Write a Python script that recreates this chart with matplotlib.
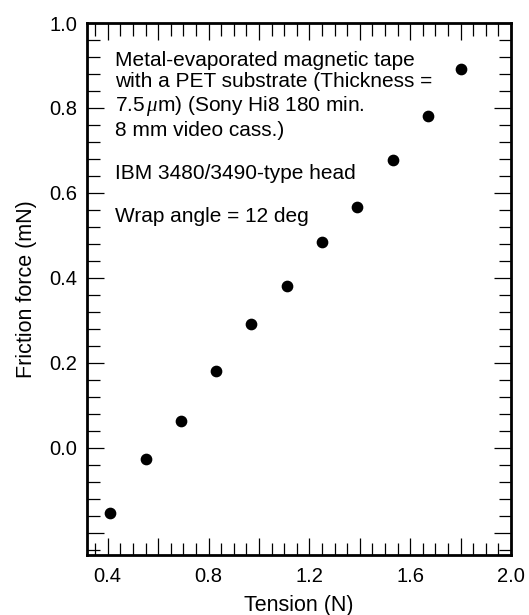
import matplotlib
matplotlib.use("Agg")
import matplotlib.pyplot as plt
from matplotlib.ticker import MultipleLocator, FuncFormatter

plt.rcParams['font.family'] = ['Liberation Sans', 'DejaVu Sans']
plt.rcParams['mathtext.fontset'] = 'custom'
plt.rcParams['mathtext.it'] = 'Liberation Serif:italic'

# tension (N) vs friction force (mN)
tension = [0.41, 0.55, 0.69, 0.83, 0.97, 1.11, 1.25, 1.39, 1.53, 1.67, 1.80]
friction = [-0.153, -0.026, 0.064, 0.180, 0.292, 0.380, 0.484, 0.566, 0.678, 0.781, 0.892]

note = ("Metal-evaporated magnetic tape\n"
        "with a PET substrate (Thickness =\n"
        "7.5$\\,\\mu$m) (Sony Hi8 180 min.\n"
        "8 mm video cass.)\n"
        "\n"
        "IBM 3480/3490-type head\n"
        "\n"
        "Wrap angle = 12 deg")

fig = plt.figure(figsize=(5.29, 6.15), dpi=100)
ax = fig.add_axes([0.1645, 0.0976, 0.8015, 0.865])

ax.scatter(tension, friction, s=55, color="black", zorder=3)

ax.set_xlim(0.318, 2.0)
ax.set_ylim(-0.252, 1.0)

ax.xaxis.set_major_locator(MultipleLocator(0.2))
ax.xaxis.set_minor_locator(MultipleLocator(0.05))
ax.yaxis.set_major_locator(MultipleLocator(0.2))
ax.yaxis.set_minor_locator(MultipleLocator(0.04))

def xfmt(v, pos):
    if abs(round(v / 0.4) * 0.4 - v) < 1e-6:
        return "%.1f" % v
    return ""

def yfmt(v, pos):
    if v < -0.01:
        return ""
    return "%.1f" % v

ax.xaxis.set_major_formatter(FuncFormatter(xfmt))
ax.yaxis.set_major_formatter(FuncFormatter(yfmt))

ax.tick_params(which="both", direction="in", top=True, right=True, width=0.9,
               labelsize=14.5, colors="black")
ax.tick_params(which="major", length=12)
ax.tick_params(axis="x", which="major", pad=9)
ax.tick_params(axis="y", which="major", pad=7)
ax.tick_params(which="minor", length=9)
for sp in ax.spines.values():
    sp.set_linewidth(2)

ax.set_xlabel("Tension (N)", fontsize=15.5, labelpad=6)
ax.set_ylabel("Friction force (mN)", fontsize=15.5, labelpad=9)

ax.text(0.066, 0.948, note, transform=ax.transAxes, fontsize=15,
        va="top", ha="left", linespacing=1.17)

fig.savefig("out.png", dpi=100)
